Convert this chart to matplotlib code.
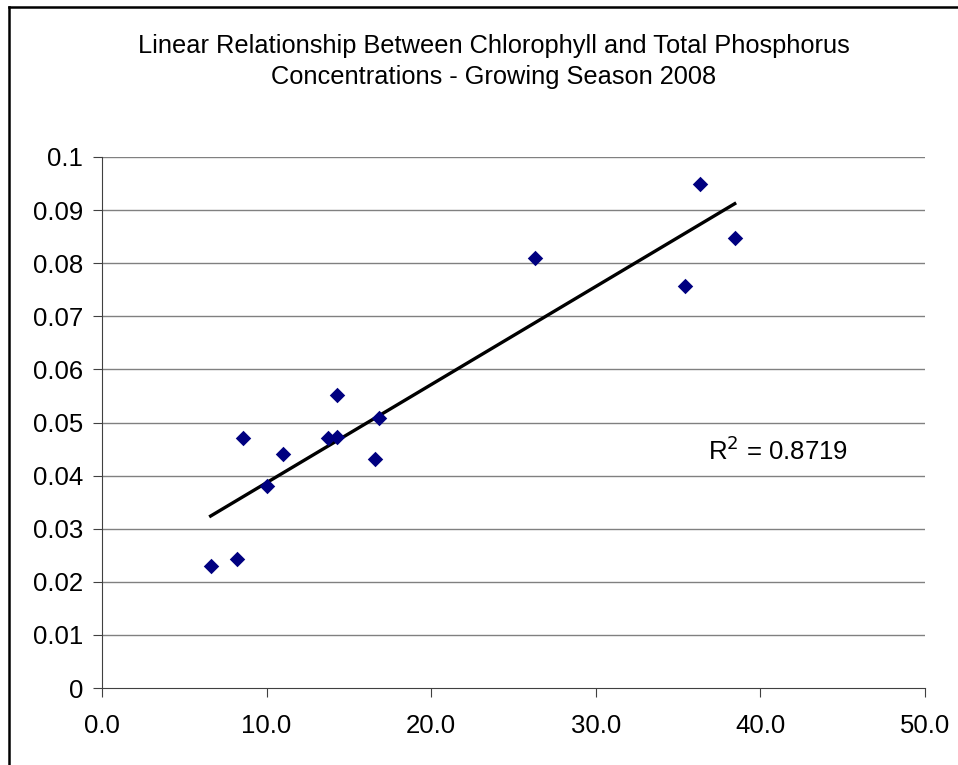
import numpy as np
import matplotlib
matplotlib.use("Agg")
import matplotlib.pyplot as plt
from matplotlib.lines import Line2D

plt.rcParams['font.family'] = ['Liberation Sans', 'DejaVu Sans']

# ----------------------------------------------------------------------
# Data
chlorophyll = [6.6, 8.2, 8.55, 10.0, 11.0, 13.75, 14.26, 14.26, 16.57, 16.81,
               26.3, 35.4, 36.33, 38.44]
phosphorus = [0.023, 0.0242, 0.0471, 0.0381, 0.0441, 0.0471, 0.0473, 0.0551,
              0.0431, 0.0509, 0.081, 0.0758, 0.0949, 0.0848]
x_ticks = [0, 10, 20, 30, 40, 50]
y_ticks = [0, 0.01, 0.02, 0.03, 0.04, 0.05, 0.06, 0.07, 0.08, 0.09, 0.1]
y_labels = ['0', '0.01', '0.02', '0.03', '0.04', '0.05', '0.06', '0.07',
            '0.08', '0.09', '0.1']
r2_text = r'R$^2$ = 0.8719'

# ----------------------------------------------------------------------
# Linear trend line
x = np.array(chlorophyll)
y = np.array(phosphorus)
slope, intercept = np.polyfit(x, y, 1)
xfit = np.array([x.min(), x.max()])

fig = plt.figure(figsize=(9.58, 7.65), dpi=100)
ax = fig.add_axes([102 / 958, 1 - 688 / 765, 823 / 958, 531 / 765])

for yt in y_ticks[1:]:
    ax.axhline(yt, color='#808080', lw=1.0, zorder=0)

ax.plot(xfit, slope * xfit + intercept, color='black', lw=2.4, zorder=2)
ax.scatter(x, y, marker='D', s=62, color='#000080', zorder=3, linewidths=0)

ax.set_xlim(0, 50)
ax.set_ylim(0, 0.1)
ax.set_xticks(x_ticks)
ax.set_xticklabels(['%.1f' % t for t in x_ticks])
ax.set_yticks(y_ticks)
ax.set_yticklabels(y_labels)
ax.tick_params(labelsize=18.5, length=6.5, width=0.8, color='#404040', pad=7)
ax.tick_params(axis='x', pad=12)
for side in ['top', 'right']:
    ax.spines[side].set_visible(False)
for side in ['left', 'bottom']:
    ax.spines[side].set_color('#404040')
    ax.spines[side].set_linewidth(0.8)

ax.text(36.8, 0.0446, r2_text, fontsize=18.5, va='center', ha='left')

fig.text(494 / 958, 1 - 46 / 765, 'Linear Relationship Between Chlorophyll and Total Phosphorus',
         fontsize=18.3, ha='center', va='center')
fig.text(494 / 958, 1 - 77 / 765, 'Concentrations - Growing Season 2008',
         fontsize=18.3, ha='center', va='center')

# chart border (left and top edges are visible)
fig.add_artist(Line2D([8.5 / 958, 8.5 / 958], [0, 1 - 6.5 / 765], color='black', lw=1.8,
                      transform=fig.transFigure))
fig.add_artist(Line2D([8.5 / 958, 1], [1 - 6.5 / 765, 1 - 6.5 / 765], color='black', lw=1.8,
                      transform=fig.transFigure))

fig.savefig('out.png', dpi=100)
